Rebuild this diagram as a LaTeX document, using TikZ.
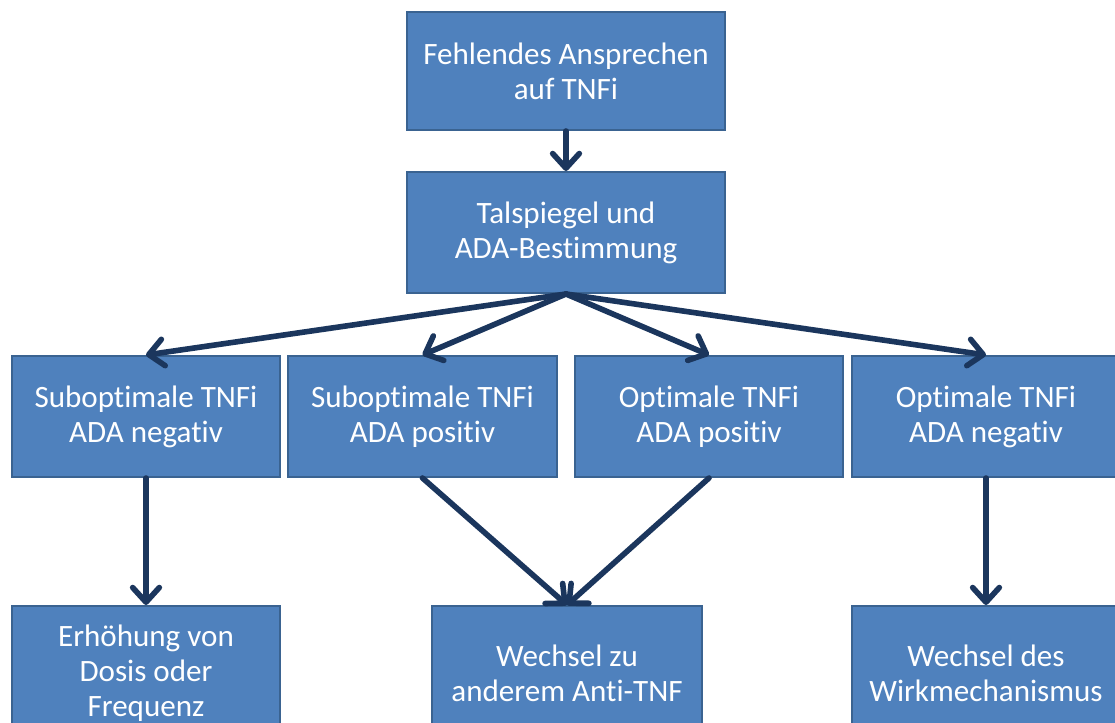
\documentclass[tikz,border=0pt]{standalone}
\usepackage{fontspec}
\setmainfont{Carlito}[Ligatures=NoCommon]
\usetikzlibrary{arrows.meta}
\newcommand\tix{t\kern0pt\relax i}
\definecolor{boxfill}{HTML}{4F81BD}
\definecolor{boxline}{HTML}{3A6391}
\definecolor{arr}{HTML}{1B365D}
\tikzset{
  flowbox/.style={rectangle, fill=boxfill, draw=boxline, line width=1.5pt,
    text=white, align=center, font=\fontsize{23.3}{26.3}\selectfont, inner sep=0pt},
  flowarrow/.style={draw=arr, line width=4.2pt, line cap=round,
    -{Straight Barb[length=11pt, width=20pt, line cap=round, line join=round]}}
}
\begin{document}
\begin{tikzpicture}[x=0.75pt, y=-0.75pt]
\useasboundingbox (0,0) rectangle (1115,722);
\clip (0,0) rectangle (1115,722);
\fill[white] (0,0) rectangle (1115,722);
% top
\node[flowbox, minimum width=318*0.75pt, minimum height=118*0.75pt] (top) at (566,71) {Fehlendes Ansprechen\\auf TNFi};
\node[flowbox, minimum width=318*0.75pt, minimum height=121*0.75pt] (tal) at (566,232.5) {Talspiegel und\\ADA-Bes\tix mmung};
% row 2
\node[flowbox, minimum width=268*0.75pt, minimum height=121*0.75pt] (sn) at (146,416.5) {Subop\tix male TNFi\\ADA nega\tix v};
\node[flowbox, minimum width=269*0.75pt, minimum height=121*0.75pt] (sp) at (422.5,416.5) {Subop\tix male TNFi\\ADA posi\tix v};
\node[flowbox, minimum width=268*0.75pt, minimum height=121*0.75pt] (op) at (709,416.5) {Op\tix male TNFi\\ADA posi\tix v};
\node[flowbox, minimum width=268*0.75pt, minimum height=121*0.75pt] (on) at (986,416.5) {Op\tix male TNFi\\ADA nega\tix v};
% row 3
\node[flowbox, minimum width=268*0.75pt, minimum height=134*0.75pt] (dose) at (146,673) {Erhöhung von\\Dosis oder\\Frequenz};
\node[flowbox, minimum width=270*0.75pt, minimum height=134*0.75pt] (anti) at (567,673) {Wechsel zu\\anderem An\tix-TNF};
\node[flowbox, minimum width=268*0.75pt, minimum height=134*0.75pt] (wirk) at (986,673) {Wechsel des\\Wirkmechanismus};
% arrows
\draw[flowarrow] (top.south) -- (tal.north);
\draw[flowarrow] (tal.south) -- (sn.north);
\draw[flowarrow] (tal.south) -- (sp.north);
\draw[flowarrow] (tal.south) -- (op.north);
\draw[flowarrow] (tal.south) -- (on.north);
\draw[flowarrow] (sn.south) -- (dose.north);
\draw[flowarrow] (sp.south) -- (anti.north);
\draw[flowarrow] (op.south) -- (anti.north);
\draw[flowarrow] (on.south) -- (wirk.north);
\end{tikzpicture}
\end{document}
